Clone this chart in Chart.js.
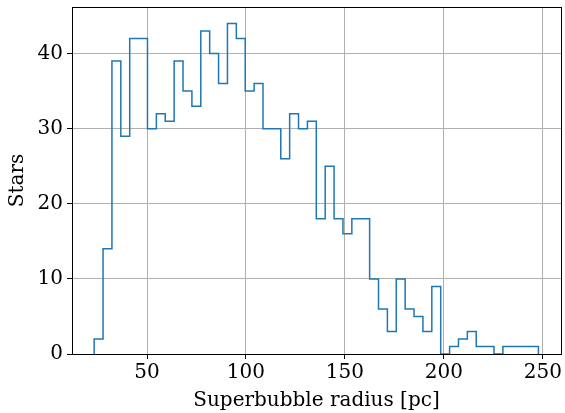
<!DOCTYPE html>
<html>
<head>
<meta charset="utf-8">
<script src="https://cdn.jsdelivr.net/npm/chart.js@4/dist/chart.umd.min.js"></script>
<style>
  html, body { margin: 0; padding: 0; background: #fff; }
  #wrap { width: 565px; height: 413px; }
</style>
</head>
<body>
<div id="wrap"><canvas id="histChart" width="565" height="413"></canvas></div>
<script>
// histogram of superbubble radii (50 equal bins)
const binStart = 23.3;
const binWidth = 4.49;
const counts = [
  2, 14, 39, 29, 42, 42, 30, 32, 31, 39,
  35, 33, 43, 40, 36, 44, 42, 35, 36, 30,
  30, 26, 32, 30, 31, 18, 25, 18, 16, 18,
  18, 10, 6, 3, 10, 6, 5, 3, 9, 0,
  1, 2, 3, 1, 1, 0, 1, 1, 1, 1
];
const xTicks = [50, 100, 150, 200, 250];
const yTicks = [0, 10, 20, 30, 40];

// outline points for a step histogram
const edges = counts.map((c, i) => binStart + i * binWidth);
edges.push(binStart + counts.length * binWidth);
const pts = [{ x: edges[0], y: 0 }];
counts.forEach((c, i) => pts.push({ x: edges[i], y: c }));
pts.push({ x: edges[counts.length], y: counts[counts.length - 1] });
pts.push({ x: edges[counts.length], y: 0 });

const font = { family: "'DejaVu Serif', serif", size: 20 };

// top/right spines
const frame = {
  id: 'frame',
  afterDraw(chart) {
    const a = chart.chartArea, c = chart.ctx;
    c.save();
    c.strokeStyle = '#000';
    c.lineWidth = 1;
    c.strokeRect(Math.round(a.left) + 0.5, Math.round(a.top) + 0.5,
      Math.round(a.right - a.left), Math.round(a.bottom - a.top));
    c.restore();
  }
};

new Chart(document.getElementById('histChart'), {
  type: 'line',
  data: {
    datasets: [{
      data: pts,
      stepped: 'before',
      borderColor: '#1f77b4',
      borderWidth: 1.5,
      pointRadius: 0,
      fill: false
    }]
  },
  options: {
    responsive: false,
    animation: false,
    layout: { padding: { left: 0, right: 4, top: 7, bottom: 0 } },
    plugins: { legend: { display: false }, tooltip: { enabled: false } },
    scales: {
      x: {
        type: 'linear',
        min: 12.1,
        max: 259.2,
        afterBuildTicks: s => { s.ticks = xTicks.map(v => ({ value: v })); },
        afterFit: s => { s.height = 59; s.paddingLeft = 0; s.paddingRight = 0; },
        grid: { color: '#b0b0b0', lineWidth: 1, tickLength: 5, tickColor: '#000' },
        border: { color: '#000', width: 1 },
        ticks: { color: '#000', font: font, padding: 2, maxRotation: 0 },
        title: { display: true, text: 'Superbubble radius [pc]', color: '#000', font: font, padding: { top: 0, bottom: 0 } }
      },
      y: {
        min: 0,
        max: 46.2,
        afterBuildTicks: s => { s.ticks = yTicks.map(v => ({ value: v })); },
        afterFit: s => { s.width = 72; s.paddingTop = 0; s.paddingBottom = 0; },
        grid: { color: '#b0b0b0', lineWidth: 1, tickLength: 5, tickColor: '#000' },
        border: { color: '#000', width: 1 },
        ticks: { color: '#000', font: font, padding: 4 },
        title: { display: true, text: 'Stars', color: '#000', font: font, padding: { top: 6, bottom: 0 } }
      }
    }
  },
  plugins: [frame]
});
</script>
</body>
</html>
